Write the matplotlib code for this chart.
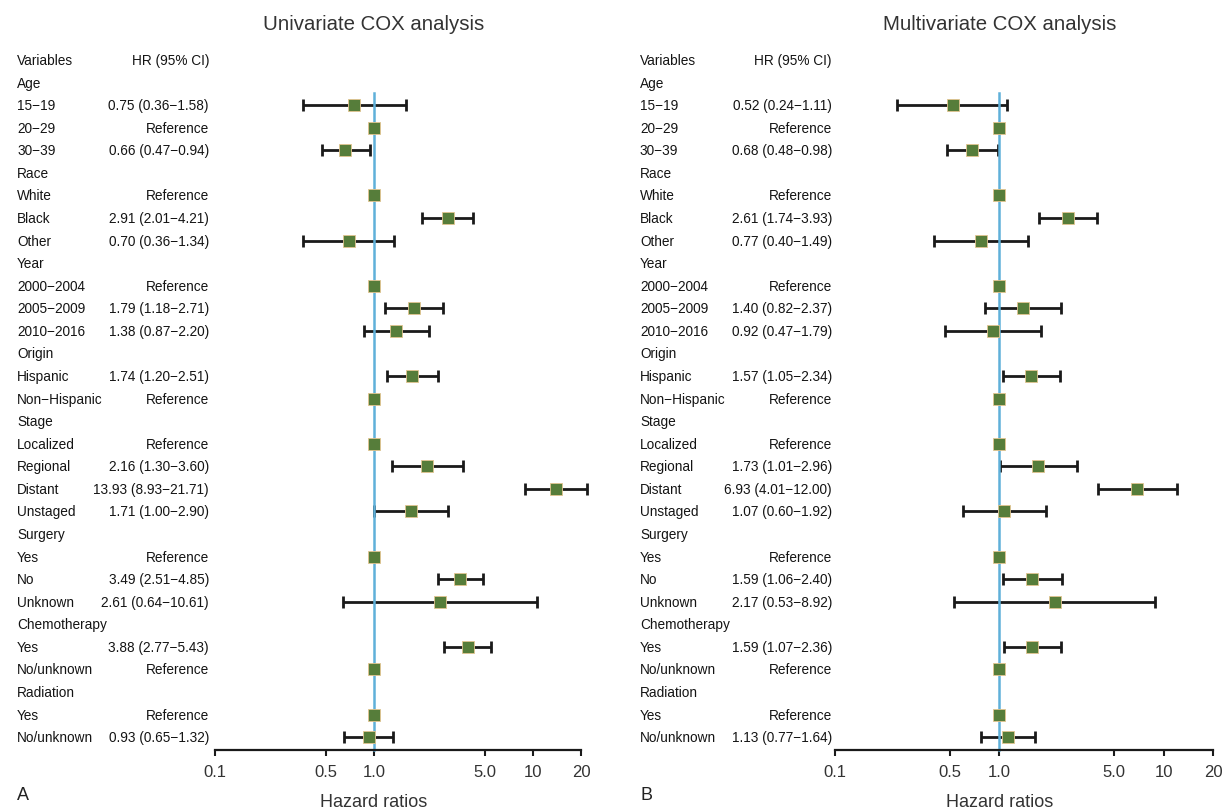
import numpy as np
import matplotlib
matplotlib.use("Agg")
import matplotlib.pyplot as plt
import matplotlib.transforms as mtransforms

nan = np.nan

variables = ["Age", "15−19", "20−29", "30−39",
             "Race", "White", "Black", "Other",
             "Year", "2000−2004", "2005−2009", "2010−2016",
             "Origin", "Hispanic", "Non−Hispanic",
             "Stage", "Localized", "Regional", "Distant", "Unstaged",
             "Surgery", "Yes", "No", "Unknown",
             "Chemotherapy", "Yes", "No/unknown",
             "Radiation", "Yes", "No/unknown"]

# nan in hr = group header row, nan in lo/hi with hr = 1 = reference level
uni_hr = [nan, 0.75, 1, 0.66, nan, 1, 2.91, 0.70, nan, 1, 1.79, 1.38,
          nan, 1.74, 1, nan, 1, 2.16, 13.93, 1.71, nan, 1, 3.49, 2.61,
          nan, 3.88, 1, nan, 1, 0.93]
uni_lo = [nan, 0.36, nan, 0.47, nan, nan, 2.01, 0.36, nan, nan, 1.18, 0.87,
          nan, 1.20, nan, nan, nan, 1.30, 8.93, 1.00, nan, nan, 2.51, 0.64,
          nan, 2.77, nan, nan, nan, 0.65]
uni_hi = [nan, 1.58, nan, 0.94, nan, nan, 4.21, 1.34, nan, nan, 2.71, 2.20,
          nan, 2.51, nan, nan, nan, 3.60, 21.71, 2.90, nan, nan, 4.85, 10.61,
          nan, 5.43, nan, nan, nan, 1.32]

multi_hr = [nan, 0.52, 1, 0.68, nan, 1, 2.61, 0.77, nan, 1, 1.40, 0.92,
            nan, 1.57, 1, nan, 1, 1.73, 6.93, 1.07, nan, 1, 1.59, 2.17,
            nan, 1.59, 1, nan, 1, 1.13]
multi_lo = [nan, 0.24, nan, 0.48, nan, nan, 1.74, 0.40, nan, nan, 0.82, 0.47,
            nan, 1.05, nan, nan, nan, 1.01, 4.01, 0.60, nan, nan, 1.06, 0.53,
            nan, 1.07, nan, nan, nan, 0.77]
multi_hi = [nan, 1.11, nan, 0.98, nan, nan, 3.93, 1.49, nan, nan, 2.37, 1.79,
            nan, 2.34, nan, nan, nan, 2.96, 12.00, 1.92, nan, nan, 2.40, 8.92,
            nan, 2.36, nan, nan, nan, 1.64]

ticks = [0.1, 0.5, 1, 5, 10, 20]
tick_labels = ["0.1", "0.5", "1.0", "5.0", "10", "20"]

W, H = 1229, 812
narrow = ["Liberation Sans Narrow", "Liberation Sans", "DejaVu Sans"]
regular = ["Liberation Sans", "DejaVu Sans"]
txt_col = "#141414"
tsize = 9.8

fig = plt.figure(figsize=(W / 100, H / 100), dpi=100)


def panel(ax_left, ax_right, var_x, hr_x, title, letter, hr, lo, hi):
    y_axis = 751
    row0 = 61
    step = 22.57
    y_bot = (y_axis - row0) / step
    top_px = row0 - 0.5 * step
    ax = fig.add_axes([ax_left / W, 1 - y_axis / H,
                       (ax_right - ax_left) / W, (y_axis - top_px) / H])
    ax.set_xscale("log")
    ax.set_xlim(0.1, 20)
    ax.set_ylim(y_bot, -0.5)
    ax.set_xticks(ticks)
    ax.set_xticklabels(tick_labels, family=regular, fontsize=12, color="#333333")
    ax.minorticks_off()
    ax.set_yticks([])
    for s in ["top", "left", "right"]:
        ax.spines[s].set_visible(False)
    ax.spines["bottom"].set_linewidth(1.6)
    ax.spines["bottom"].set_color("#1a1a1a")
    ax.tick_params(axis="x", length=4, width=1.5, color="#1a1a1a", pad=6)
    ax.patch.set_alpha(0)

    hr = np.array(hr, dtype=float)
    lo = np.array(lo, dtype=float)
    hi = np.array(hi, dtype=float)
    rows = np.arange(1, len(hr) + 1)

    # reference line at HR = 1
    ax.plot([1, 1], [1.45, y_bot], color="#5fb0d9", lw=1.8, zorder=2,
            clip_on=False)

    est = ~np.isnan(lo)
    ax.errorbar(hr[est], rows[est], xerr=[hr[est] - lo[est], hi[est] - hr[est]],
                fmt="none", ecolor="#1a1a1a", elinewidth=2, capsize=4,
                capthick=2, zorder=1, clip_on=False)
    pts = ~np.isnan(hr)
    ax.plot(hr[pts], rows[pts], "s", color="#567d3a", markersize=8,
            markeredgecolor="#e3c590", markeredgewidth=0.6, zorder=3,
            clip_on=False)

    tr = mtransforms.blended_transform_factory(fig.transFigure, ax.transData)
    ax.text(var_x / W, 0, "Variables", transform=tr, ha="left", va="center",
            family=narrow, fontsize=tsize, color=txt_col)
    ax.text(hr_x / W, 0, "HR (95% CI)", transform=tr, ha="right", va="center",
            family=narrow, fontsize=tsize, color=txt_col)
    for i, name in enumerate(variables):
        r = i + 1
        ax.text(var_x / W, r, name, transform=tr, ha="left", va="center",
                family=narrow, fontsize=tsize, color=txt_col)
        if np.isnan(hr[i]):
            continue
        if np.isnan(lo[i]):
            s = "Reference"
        else:
            s = f"{hr[i]:.2f} ({lo[i]:.2f}−{hi[i]:.2f})"
        ax.text(hr_x / W, r, s, transform=tr, ha="right", va="center",
                family=narrow, fontsize=tsize, color=txt_col)

    x1 = ax.transData.transform((1, 0))[0]
    xc = fig.transFigure.inverted().transform((x1, 0))[0]
    fig.text(xc, 1 - 25 / H, title, ha="center", va="center",
             family=regular, fontsize=14.7, color="#333333")
    fig.text(xc, 1 - 803 / H, "Hazard ratios", ha="center", va="center",
             family=regular, fontsize=13, color="#333333")
    fig.text(var_x / W, 1 - 796 / H, letter, ha="left", va="center",
             family=regular, fontsize=13, color="#222222")


panel(215, 581, 17, 209, "Univariate COX analysis", "A", uni_hr, uni_lo, uni_hi)
panel(835, 1213, 640, 832, "Multivariate COX analysis", "B",
      multi_hr, multi_lo, multi_hi)

fig.savefig("out.png", dpi=100, facecolor="white")
